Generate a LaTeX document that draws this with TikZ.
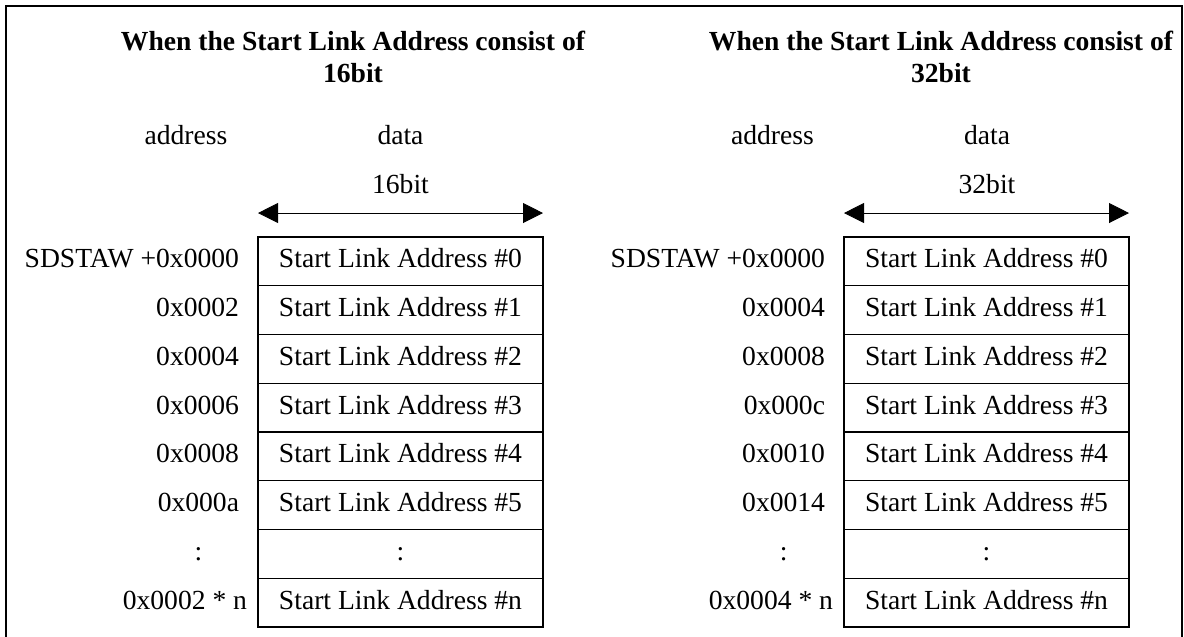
\documentclass[tikz,border=0pt]{standalone}
\usepackage{fontspec}
\setmainfont{Liberation Serif}
\usetikzlibrary{positioning,arrows.meta}

\newcommand{\slfont}{\fontsize{27.6}{32}\selectfont}

\tikzset{
	slot/.style={draw, line width=1.3pt, minimum width=285pt, minimum height=48.75pt,
		inner sep=0pt, outer sep=0pt, text height=19.5pt, text depth=6.5pt},
	addr/.style={inner sep=0pt, outer sep=0pt, text height=19.5pt, text depth=6.5pt},
	bitarrow/.style={{Triangle[length=20pt,width=20pt]}-{Triangle[length=20pt,width=20pt]}, line width=0.8pt},
	headline/.style={align=center, anchor=base, inner sep=0pt, font=\slfont\bfseries},
}

\begin{document}
\begin{tikzpicture}[x=1pt,y=-1pt,font=\slfont]
	\useasboundingbox (0,0) rectangle (1184,637);

	\draw[line width=1.3pt] (6,6) rectangle (1182,680);

	% 16bit table
	\node[headline] (ltitle) at (353,82) {When the Start Link Address consist of\\16bit};
	\node[anchor=base] (laddr) at (186,144) {address};
	\node[anchor=base] (ldata) at (400.5,144) {data};
	\node[anchor=base] (lbits) at (400.5,193) {16bit};

	\node[slot] (l0) at (400.5,261.4) {Start Link Address \#0};
	\node[slot, below=0pt of l0] (l1) {Start Link Address \#1};
	\node[slot, below=0pt of l1] (l2) {Start Link Address \#2};
	\node[slot, below=0pt of l2] (l3) {Start Link Address \#3};
	\node[slot, below=0pt of l3] (l4) {Start Link Address \#4};
	\node[slot, below=0pt of l4] (l5) {Start Link Address \#5};
	\node[slot, below=0pt of l5] (l6) {:};
	\node[slot, below=0pt of l6] (l7) {Start Link Address \#n};

	\node[addr, left=19pt of l0] (la0) {SDSTAW +0x0000};
	\node[addr, left=19pt of l1] (la1) {0x0002};
	\node[addr, left=19pt of l2] (la2) {0x0004};
	\node[addr, left=19pt of l3] (la3) {0x0006};
	\node[addr, left=19pt of l4] (la4) {0x0008};
	\node[addr, left=19pt of l5] (la5) {0x000a};
	\node[addr] (la6) at (la5.center |- l6.center) {:};
	\node[addr, left=19pt of l7, xshift=8pt] (la7) {0x0002 * n};

	\coordinate (lw) at ([yshift=24pt]l0.north west);
	\coordinate (le) at ([yshift=24pt]l0.north east);
	\draw[bitarrow] (lw) -- (le);

	% 32bit table
	\node[headline] (rtitle) at (941,82) {When the Start Link Address consist of\\32bit};
	\node[anchor=base] (raddr) at (772.5,144) {address};
	\node[anchor=base] (rdata) at (987,144) {data};
	\node[anchor=base] (rbits) at (987,193) {32bit};

	\node[slot] (r0) at (986.5,261.4) {Start Link Address \#0};
	\node[slot, below=0pt of r0] (r1) {Start Link Address \#1};
	\node[slot, below=0pt of r1] (r2) {Start Link Address \#2};
	\node[slot, below=0pt of r2] (r3) {Start Link Address \#3};
	\node[slot, below=0pt of r3] (r4) {Start Link Address \#4};
	\node[slot, below=0pt of r4] (r5) {Start Link Address \#5};
	\node[slot, below=0pt of r5] (r6) {:};
	\node[slot, below=0pt of r6] (r7) {Start Link Address \#n};

	\node[addr, left=19pt of r0] (ra0) {SDSTAW +0x0000};
	\node[addr, left=19pt of r1] (ra1) {0x0004};
	\node[addr, left=19pt of r2] (ra2) {0x0008};
	\node[addr, left=19pt of r3] (ra3) {0x000c};
	\node[addr, left=19pt of r4] (ra4) {0x0010};
	\node[addr, left=19pt of r5] (ra5) {0x0014};
	\node[addr] (ra6) at (ra5.center |- r6.center) {:};
	\node[addr, left=19pt of r7, xshift=8pt] (ra7) {0x0004 * n};

	\coordinate (rw) at ([yshift=24pt]r0.north west);
	\coordinate (re) at ([yshift=24pt]r0.north east);
	\draw[bitarrow] (rw) -- (re);
\end{tikzpicture}
\end{document}
